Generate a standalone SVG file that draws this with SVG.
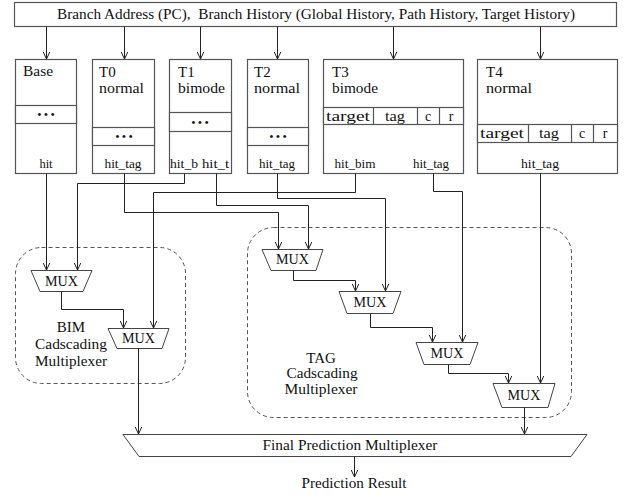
<svg xmlns="http://www.w3.org/2000/svg" width="632" height="497" viewBox="0 0 632 497" font-family="'Liberation Serif', serif">
<defs>
<marker id="arr" viewBox="0 0 8 8" refX="7.5" refY="4" markerWidth="8" markerHeight="8" markerUnits="userSpaceOnUse" orient="auto">
<path d="M0,0.5 L7.5,4 L0,7.5" fill="none" stroke="#222" stroke-width="1"/>
</marker>
<style>
text{font-family:'Liberation Serif',serif;fill:#111}
.box{fill:#fff;stroke:#555;stroke-width:1.2}
.mux{fill:#fff;stroke:#444;stroke-width:1}
.grp{fill:none;stroke:#555;stroke-width:1;stroke-dasharray:4 3}
.w{fill:none;stroke:#222;stroke-width:1;marker-end:url(#arr)}
.lbl{font-size:15px}
.hit{font-size:12.5px;text-anchor:middle}
.cell{font-size:14px;text-anchor:middle}
.dots{font-size:11px;font-weight:bold;text-anchor:middle}
.mt{font-size:14px;text-anchor:middle}
.gl{font-size:15px;text-anchor:middle}
</style>
</defs>
<rect width="632" height="497" fill="#fff"/>

<g id="grp-bim">
<rect class="grp" x="15.5" y="247.5" width="170" height="136" rx="26"/>
<text class="gl" x="71" y="332">BIM</text>
<text class="gl" x="71" y="349" textLength="72" lengthAdjust="spacingAndGlyphs">Cadscading</text>
<text class="gl" x="71" y="366" textLength="72" lengthAdjust="spacingAndGlyphs">Multiplexer</text>
</g>
<g id="grp-tag">
<rect class="grp" x="247.5" y="227.5" width="324" height="190" rx="26"/>
<text class="gl" x="321" y="363">TAG</text>
<text class="gl" x="322" y="378" textLength="71" lengthAdjust="spacingAndGlyphs">Cadscading</text>
<text class="gl" x="321" y="394" textLength="73" lengthAdjust="spacingAndGlyphs">Multiplexer</text>
</g>

<g id="input">
<rect class="box" x="14.5" y="2.5" width="602" height="24"/>
<text x="316" y="19" font-size="14" text-anchor="middle" textLength="518" lengthAdjust="spacingAndGlyphs" xml:space="preserve">Branch Address (PC),  Branch History (Global History, Path History, Target History)</text>
</g>

<g id="base">
<rect class="box" x="15.5" y="59.5" width="61" height="114"/>
<rect class="box" x="15.5" y="105.5" width="61" height="18"/>
<text class="lbl" x="23" y="76" textLength="30" lengthAdjust="spacingAndGlyphs">Base</text>
<text class="dots" x="46" y="118">• • •</text>
<text class="hit" x="46" y="168">hit</text>
</g>
<g id="t0">
<rect class="box" x="92.5" y="59.5" width="62" height="114"/>
<rect class="box" x="92.5" y="127.5" width="62" height="18"/>
<text class="lbl" x="99" y="77">T0</text>
<text class="lbl" x="99" y="93" textLength="45" lengthAdjust="spacingAndGlyphs">normal</text>
<text class="dots" x="124" y="140">• • •</text>
<text class="hit" x="123" y="168" textLength="37" lengthAdjust="spacingAndGlyphs">hit_tag</text>
</g>
<g id="t1">
<rect class="box" x="169.5" y="59.5" width="62" height="114"/>
<rect class="box" x="169.5" y="112.5" width="62" height="19"/>
<text class="lbl" x="178" y="77">T1</text>
<text class="lbl" x="178" y="93" textLength="47" lengthAdjust="spacingAndGlyphs">bimode</text>
<text class="dots" x="200" y="126">• • •</text>
<text class="hit" x="184" y="168" textLength="28" lengthAdjust="spacingAndGlyphs">hit_b</text>
<text class="hit" x="215.5" y="168" textLength="27" lengthAdjust="spacingAndGlyphs">hit_t</text>
</g>
<g id="t2">
<rect class="box" x="247.5" y="59.5" width="61" height="114"/>
<rect class="box" x="247.5" y="127.5" width="61" height="18"/>
<text class="lbl" x="254" y="77">T2</text>
<text class="lbl" x="254" y="93" textLength="46" lengthAdjust="spacingAndGlyphs">normal</text>
<text class="dots" x="278" y="140">• • •</text>
<text class="hit" x="277" y="168" textLength="36" lengthAdjust="spacingAndGlyphs">hit_tag</text>
</g>
<g id="t3">
<rect class="box" x="323.5" y="59.5" width="140" height="114"/>
<rect class="box" x="323.5" y="107.5" width="140" height="17"/>
<path d="M373.5,107.5V124.5M417.5,107.5V124.5M439.5,107.5V124.5" stroke="#555" stroke-width="1.2"/>
<text class="lbl" x="332" y="77">T3</text>
<text class="lbl" x="332" y="93" textLength="46" lengthAdjust="spacingAndGlyphs">bimode</text>
<text class="cell" x="348" y="121" textLength="44" lengthAdjust="spacingAndGlyphs">target</text>
<text class="cell" x="395" y="121" textLength="20" lengthAdjust="spacingAndGlyphs">tag</text>
<text class="cell" x="428" y="121">c</text>
<text class="cell" x="451" y="121">r</text>
<text class="hit" x="355" y="168" textLength="41" lengthAdjust="spacingAndGlyphs">hit_bim</text>
<text class="hit" x="431" y="168" textLength="36" lengthAdjust="spacingAndGlyphs">hit_tag</text>
</g>
<g id="t4">
<rect class="box" x="477.5" y="59.5" width="140" height="114"/>
<rect class="box" x="477.5" y="124.5" width="140" height="18"/>
<path d="M528.5,124.5V142.5M571.5,124.5V142.5M593.5,124.5V142.5" stroke="#555" stroke-width="1.2"/>
<text class="lbl" x="486" y="77">T4</text>
<text class="lbl" x="486" y="93" textLength="46" lengthAdjust="spacingAndGlyphs">normal</text>
<text class="cell" x="502" y="138" textLength="44" lengthAdjust="spacingAndGlyphs">target</text>
<text class="cell" x="549" y="138" textLength="20" lengthAdjust="spacingAndGlyphs">tag</text>
<text class="cell" x="582" y="138">c</text>
<text class="cell" x="605" y="138">r</text>
<text class="hit" x="540" y="168" textLength="38" lengthAdjust="spacingAndGlyphs">hit_tag</text>
</g>

<g id="bim-mux1"><path class="mux" d="M31,270.5H92L83,291.5H40Z"/><text class="mt" x="61.5" y="286" textLength="33" lengthAdjust="spacingAndGlyphs">MUX</text></g>
<g id="bim-mux2"><path class="mux" d="M108,328.5H169L162,348.5H117Z"/><text class="mt" x="138.5" y="343" textLength="33" lengthAdjust="spacingAndGlyphs">MUX</text></g>
<g id="tag-mux1"><path class="mux" d="M262,249.5H323L316,270.5H271Z"/><text class="mt" x="292.5" y="264" textLength="33" lengthAdjust="spacingAndGlyphs">MUX</text></g>
<g id="tag-mux2"><path class="mux" d="M339,291.5H401L393,313.5H347Z"/><text class="mt" x="370" y="307" textLength="33" lengthAdjust="spacingAndGlyphs">MUX</text></g>
<g id="tag-mux3"><path class="mux" d="M416,342.5H478L470,364.5H424Z"/><text class="mt" x="447" y="358" textLength="33" lengthAdjust="spacingAndGlyphs">MUX</text></g>
<g id="tag-mux4"><path class="mux" d="M493,383.5H555L548,407.5H502Z"/><text class="mt" x="524" y="400" textLength="33" lengthAdjust="spacingAndGlyphs">MUX</text></g>
<g id="final">
<path class="mux" d="M123,434.5H587L571,456.5H139Z"/>
<text x="350" y="450" font-size="14.5" text-anchor="middle" textLength="175" lengthAdjust="spacingAndGlyphs">Final Prediction Multiplexer</text>
</g>
<g id="result">
<text x="354" y="488" font-size="14.5" text-anchor="middle" textLength="105" lengthAdjust="spacingAndGlyphs">Prediction Result</text>
</g>

<g id="connectors">
<path class="w" d="M46.5,26.5V59"/>
<path class="w" d="M124.5,26.5V59"/>
<path class="w" d="M200.5,26.5V59"/>
<path class="w" d="M277.5,26.5V59"/>
<path class="w" d="M393.5,26.5V59"/>
<path class="w" d="M540.5,26.5V59"/>
<path class="w" d="M46.5,173.5V270"/>
<path class="w" d="M184.5,173.5V183.5H77.5V270"/>
<path class="w" d="M124.5,173.5V212.5H278.5V249"/>
<path class="w" d="M216.5,173.5V205.5H308.5V249"/>
<path class="w" d="M277.5,173.5V198.5H385.5V291"/>
<path class="w" d="M355.5,173.5V192.5H153.5V328"/>
<path class="w" d="M433.5,173.5V191.5H462.5V342"/>
<path class="w" d="M540.5,173.5V383"/>
<path class="w" d="M61.5,291.5V309.5H123.5V328"/>
<path class="w" d="M138.5,348.5V434"/>
<path class="w" d="M293.5,270.5V280.5H355.5V291"/>
<path class="w" d="M370.5,313.5V327.5H432.5V342"/>
<path class="w" d="M448.5,364.5V373.5H508.5V383"/>
<path class="w" d="M524.5,407.5V434"/>
<path class="w" d="M354.5,456.5V477"/>
</g>
</svg>
